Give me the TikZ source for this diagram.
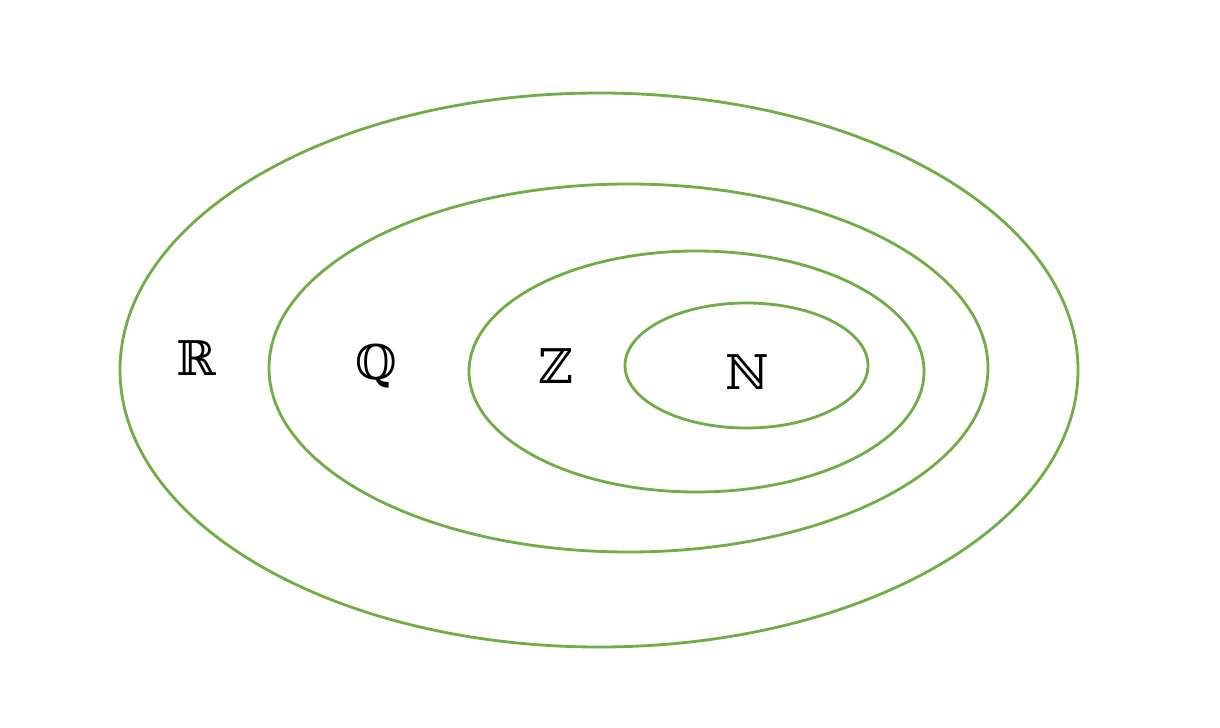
\documentclass[tikz,border=0pt]{standalone}
\usepackage{fontspec}
\usepackage{xcolor}
\setmainfont{DejaVu Serif}
\definecolor{setgreen}{HTML}{70AD47}

\begin{document}
\begin{tikzpicture}[x=0.025cm, y=-0.025cm,
    setline/.style={draw=setgreen, line width=2pt},
    setlabel/.style={font=\fontsize{34}{40}\selectfont, inner sep=0pt}]

    \useasboundingbox (0,0) rectangle (1220,728);

    \draw[setline] (599,370) ellipse [x radius=479, y radius=277];
    \draw[setline] (628.5,368) ellipse [x radius=359.5, y radius=184];
    \draw[setline] (696.5,371.5) ellipse [x radius=227.5, y radius=120.5];
    \draw[setline] (746.5,365.5) ellipse [x radius=121.5, y radius=62.5];

    \node[setlabel] (R) at (196,358) {ℝ};
    \node[setlabel] (Q) at (376,366) {ℚ};
    \node[setlabel] (Z) at (556,366) {ℤ};
    \node[setlabel] (N) at (747,372) {ℕ};
\end{tikzpicture}
\end{document}
